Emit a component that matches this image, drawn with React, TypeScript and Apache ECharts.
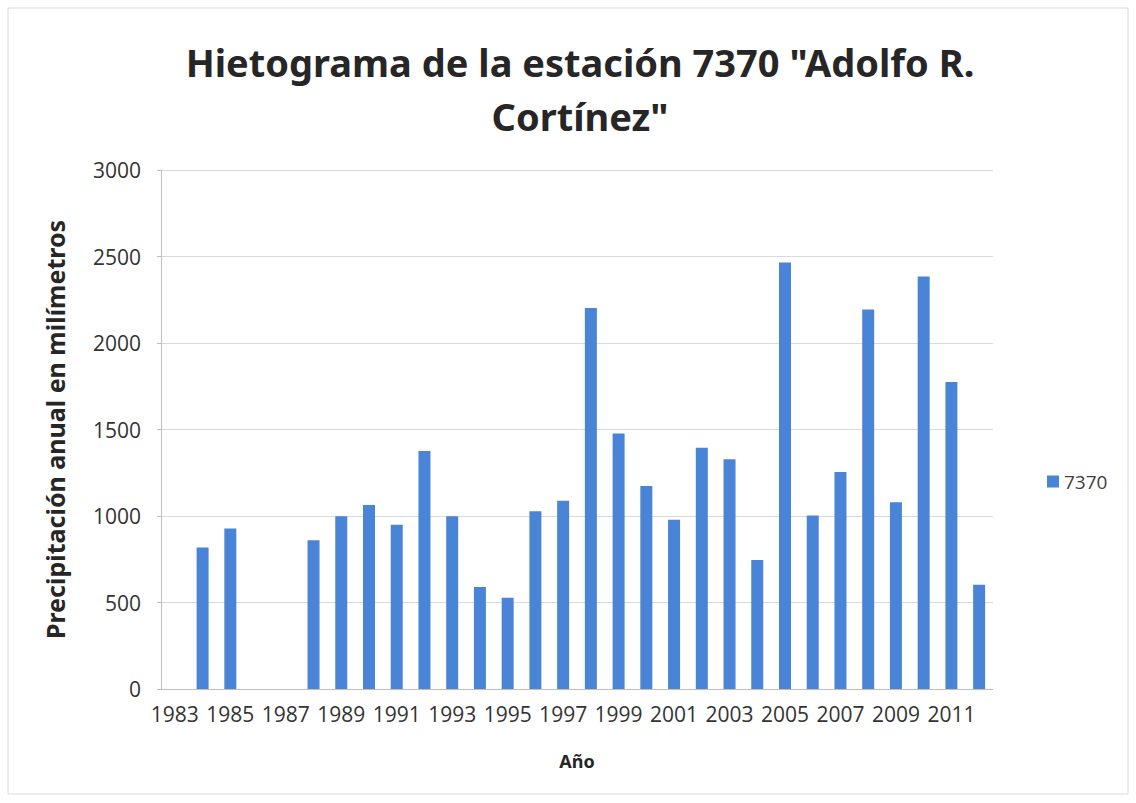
import React, { useEffect, useRef } from "react";
import * as echarts from "echarts";

const years: string[] = [
  "1983","1984","1985","1986","1987","1988","1989","1990","1991","1992",
  "1993","1994","1995","1996","1997","1998","1999","2000","2001","2002",
  "2003","2004","2005","2006","2007","2008","2009","2010","2011","2012",
];
const precipitation: (number | null)[] = [
  null, 818, 928, null, null, 860, 998, 1063, 949, 1376,
  998, 590, 527, 1028, 1088, 2203, 1477, 1174, 979, 1394,
  1328, 745, 2465, 1003, 1255, 2194, 1080, 2384, 1775, 603,
];
const seriesName = "7370";
const titleText = 'Hietograma de la estación 7370 "Adolfo R.\nCortínez"';
const yAxisName = "Precipitación anual en milímetros";
const xAxisName = "Año";

export default function App() {
  const ref = useRef<HTMLDivElement>(null);
  useEffect(() => {
    document.body.style.margin = "0";
    const chart = echarts.init(ref.current!, null, { renderer: "svg" });
    const font = "'Open Sans', 'Noto Sans', sans-serif";
    chart.setOption({
      animation: false,
      backgroundColor: "#ffffff",
      textStyle: { fontFamily: font },
      title: {
        text: titleText,
        left: 575,
        textAlign: "center",
        top: 30,
        textStyle: {
          fontFamily: "'Noto Sans', sans-serif",
          fontWeight: "bold",
          fontSize: 38,
          lineHeight: 54,
          color: "#262626",
        },
      },
      legend: {
        data: [seriesName],
        left: 1042,
        top: 467,
        itemWidth: 12,
        itemHeight: 12,
        icon: "rect",
        itemGap: 6,
        textStyle: { fontSize: 19, color: "#404040", fontFamily: font },
      },
      graphic: [
        {
          type: "rect",
          shape: { x: 8, y: 8, width: 1120, height: 786 },
          style: { fill: "none", stroke: "#dcdcdc", lineWidth: 1 },
          silent: true,
        },
      ],
      grid: { left: 161, right: 143, top: 170, bottom: 114 },
      xAxis: {
        type: "category",
        data: years,
        name: xAxisName,
        nameLocation: "middle",
        nameGap: 63,
        nameTextStyle: { fontWeight: "bold", fontSize: 18, color: "#262626", fontFamily: "'Noto Sans', sans-serif" },
        axisLine: { show: true, lineStyle: { color: "#bfbfbf" } },
        axisTick: { show: false },
        axisLabel: { interval: 1, fontSize: 21, color: "#333333", margin: 14, fontFamily: font },
      },
      yAxis: {
        type: "value",
        min: 0,
        max: 3000,
        interval: 500,
        name: yAxisName,
        nameLocation: "middle",
        nameGap: 94,
        nameTextStyle: { fontWeight: "bold", fontSize: 25, color: "#262626", fontFamily: "'Noto Sans', sans-serif" },
        axisLine: { show: true, lineStyle: { color: "#bfbfbf" } },
        axisTick: { show: true, length: 4, inside: false, lineStyle: { color: "#bfbfbf" } },
        axisLabel: {
          fontSize: 21,
          color: "#333333",
          margin: 20,
          fontFamily: font,
          formatter: (v: number) => String(v),
        },
        splitLine: { show: true, lineStyle: { color: "#d9d9d9" } },
      },
      series: [
        {
          name: seriesName,
          type: "bar",
          data: precipitation,
          barWidth: 12,
          itemStyle: { color: "#4a84d6" },
        },
      ],
    });
    return () => chart.dispose();
  }, []);
  return <div ref={ref} style={{ width: 1136, height: 803 }} />;
}
